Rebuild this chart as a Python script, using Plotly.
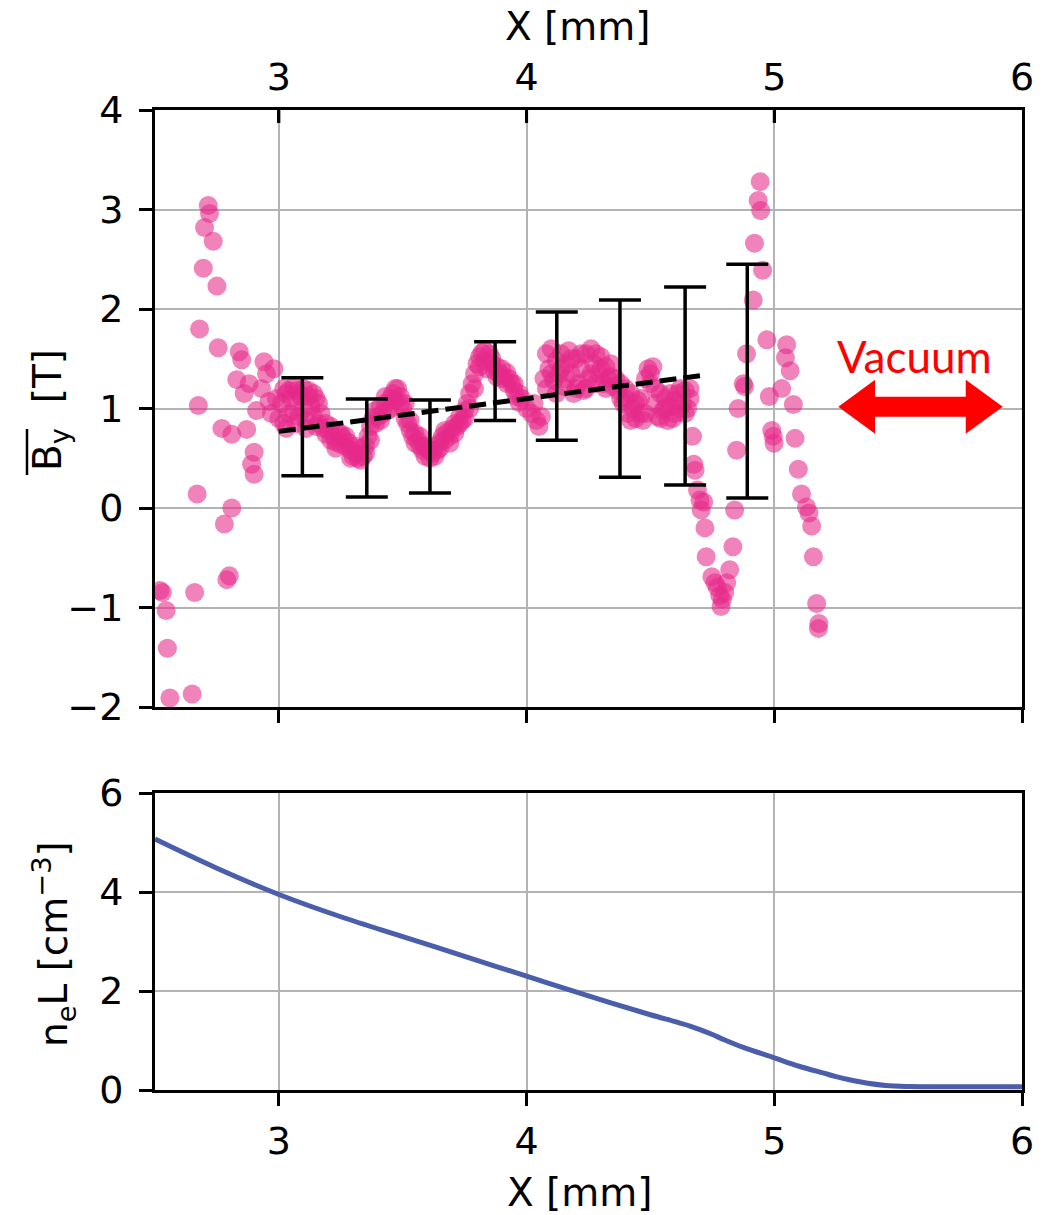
import plotly.graph_objects as go

# ---------------- data ----------------
by_x = [2.52, 2.53, 2.545, 2.55, 2.56, 2.65, 2.66, 2.67, 2.675, 2.68, 2.695, 2.70, 2.715, 2.72, 2.735,
        2.75, 2.755, 2.77, 2.78, 2.79, 2.80, 2.81, 2.81, 2.83, 2.84, 2.85, 2.86, 2.87, 2.88, 2.89,
        2.90, 2.90, 2.91, 2.93, 2.94, 2.95, 2.96, 2.97, 2.98, 2.99, 3.00,
        3.01, 3.02, 3.03, 3.04, 3.05, 3.06, 3.07, 3.08, 3.09, 3.10, 3.11, 3.12, 3.13, 3.14, 3.15,
        3.16, 3.17, 3.18, 3.19, 3.20, 3.21, 3.22, 3.23, 3.24, 3.25, 3.26, 3.27, 3.28, 3.29, 3.30,
        3.31, 3.32, 3.33, 3.34, 3.35, 3.36, 3.37, 3.38, 3.39, 3.40, 3.41, 3.42, 3.43, 3.44, 3.45,
        3.46, 3.47, 3.48, 3.49, 3.50, 3.51, 3.52, 3.53, 3.54, 3.55, 3.56, 3.57, 3.58, 3.59, 3.60,
        3.61, 3.62, 3.63, 3.64, 3.65, 3.66, 3.67, 3.68, 3.69, 3.70, 3.71, 3.72, 3.73, 3.74, 3.75,
        3.76, 3.77, 3.78, 3.79, 3.80, 3.81, 3.82, 3.83, 3.84, 3.85, 3.86, 3.87, 3.88, 3.89, 3.90,
        3.91, 3.92, 3.93, 3.94, 3.95, 3.96, 3.97, 3.98, 4.00, 4.02, 4.03, 4.04, 4.05, 4.06, 4.07,
        4.08, 4.09, 4.10, 4.11, 4.12, 4.13, 4.14, 4.15, 4.16, 4.17, 4.18, 4.19, 4.20, 4.21, 4.22,
        4.23, 4.24, 4.25, 4.26, 4.27, 4.28, 4.29, 4.30, 4.31, 4.32, 4.33, 4.34, 4.35, 4.36, 4.37,
        4.38, 4.39, 4.40, 4.41, 4.42, 4.43, 4.44, 4.45, 4.46, 4.47, 4.48, 4.49, 4.50, 4.51, 4.52,
        4.53, 4.54, 4.55, 4.56, 4.57, 4.58, 4.59, 4.60, 4.61, 4.62, 4.63, 4.64, 4.65, 4.66, 4.67,
        4.675, 4.68, 4.69, 4.70, 4.705, 4.715, 4.72, 4.725, 4.748, 4.76, 4.77, 4.78, 4.785, 4.79,
        4.80, 4.808, 4.82, 4.833, 4.84, 4.848, 4.854, 4.875, 4.88, 4.888, 4.915, 4.92, 4.935,
        4.943, 4.945, 4.953, 4.97, 4.98, 4.99, 4.996, 4.999, 5.03, 5.045, 5.05, 5.064, 5.077,
        5.084, 5.097, 5.11, 5.13, 5.14, 5.151, 5.158, 5.171, 5.178, 5.18,
        # second layer of the dense band
        3.02, 3.04, 3.06, 3.08, 3.10, 3.12, 3.14, 3.16, 3.03, 3.07, 3.11, 3.15,
        3.19, 3.21, 3.23, 3.25, 3.27, 3.29, 3.31, 3.33, 3.35,
        3.37, 3.39, 3.41, 3.43, 3.45, 3.47, 3.49,
        3.51, 3.53, 3.55, 3.57, 3.59, 3.61, 3.63, 3.65,
        3.67, 3.69, 3.71, 3.73, 3.75, 3.77, 3.79,
        3.81, 3.83, 3.86, 3.88, 3.90, 3.92, 3.95, 3.97,
        4.08, 4.10, 4.12, 4.14, 4.16, 4.18, 4.20, 4.22, 4.24, 4.26, 4.28, 4.30, 4.32, 4.34,
        4.38, 4.40, 4.42, 4.44, 4.46, 4.48, 4.50, 4.52, 4.54, 4.56, 4.58, 4.60, 4.62, 4.64, 4.66]
by_v = [-0.83, -0.85, -1.03, -1.41, -1.91, -1.87, -0.85, 0.14, 1.03, 1.80, 2.41, 2.82, 3.04, 2.96, 2.68,
        2.23, 1.61, 0.80, -0.16, -0.72, -0.68, 0.00, 0.74, 1.29, 1.57, 1.49, 1.15, 0.79, 1.25, 0.44,
        0.56, 0.34, 0.98, 1.20, 1.47, 1.35, 1.07, 0.95, 1.40, 1.10, 0.90,
        1.05, 0.85, 1.15, 0.95, 1.10, 0.98, 1.18, 0.92, 1.12, 1.00, 0.88, 1.12, 1.02, 0.92, 1.10,
        0.85, 0.95, 0.80, 0.74, 0.78, 0.68, 0.72, 0.66, 0.75, 0.64, 0.70, 0.62, 0.66, 0.58, 0.52,
        0.55, 0.50, 0.60, 0.52, 0.62, 0.72, 0.82, 0.90, 0.98, 0.92, 1.02, 0.95, 1.05, 0.98, 1.10,
        1.15, 1.08, 1.20, 1.12, 1.00, 0.90, 0.85, 0.78, 0.72, 0.75, 0.68, 0.62, 0.58, 0.52, 0.60,
        0.50, 0.55, 0.62, 0.58, 0.66, 0.72, 0.68, 0.76, 0.72, 0.80, 0.85, 0.82, 0.92, 0.88, 0.98,
        1.05, 1.15, 1.25, 1.35, 1.45, 1.52, 1.56, 1.48, 1.40, 1.55, 1.45, 1.38, 1.42, 1.35, 1.40,
        1.32, 1.36, 1.30, 1.25, 1.18, 1.12, 1.06, 1.10, 1.00, 0.95, 1.05, 0.88, 0.82, 0.92, 1.30,
        1.55, 1.40, 1.60, 1.28, 1.48, 1.35, 1.55, 1.22, 1.45, 1.58, 1.35, 1.15, 1.50, 1.25, 1.40,
        1.18, 1.55, 1.30, 1.60, 1.45, 1.55, 1.35, 1.40, 1.25, 1.42, 1.30, 1.32, 1.22, 1.30, 1.18,
        1.10, 1.05, 1.20, 0.95, 1.15, 1.00, 0.90, 1.08, 0.95, 0.88, 1.30, 1.40, 1.35, 1.42, 1.05,
        0.92, 1.15, 0.98, 1.10, 0.88, 1.02, 0.90, 1.08, 1.15, 1.20, 1.05, 1.18, 1.00, 1.10, 0.72,
        0.44, 0.38, 0.18, 0.08, -0.02, 0.06, -0.20, -0.49, -0.69, -0.75, -0.80, -0.88, -0.99, -0.92,
        -0.85, -0.75, -0.62, -0.39, -0.02, 0.58, 1.00, 1.25, 1.22, 1.55, 2.09, 2.66, 3.09,
        3.28, 2.99, 2.39, 1.69, 1.12, 0.78, 0.72, 0.65, 1.20, 1.51, 1.64, 1.38, 1.04,
        0.70, 0.39, 0.14, 0.01, -0.05, -0.18, -0.49, -0.96, -1.21, -1.16,
        1.20, 1.18, 1.22, 1.15, 1.20, 1.18, 1.15, 1.05, 0.80, 0.85, 0.80, 0.82,
        0.85, 0.82, 0.60, 0.75, 0.72, 0.50, 0.62, 0.48, 0.55,
        0.68, 0.85, 0.88, 1.12, 1.00, 1.20, 1.05,
        1.05, 0.88, 0.65, 0.72, 0.62, 0.58, 0.52, 0.60,
        0.78, 0.65, 0.75, 0.85, 0.90, 1.00, 1.20,
        1.42, 1.58, 1.50, 1.32, 1.30, 1.25, 1.25, 1.15,
        1.20, 1.35, 1.15, 1.40, 1.30, 1.50, 1.20, 1.55, 1.20, 1.35, 1.25, 1.52, 1.20, 1.45,
        1.25, 1.10, 0.88, 1.05, 1.10, 0.95, 1.25, 1.20, 0.90, 1.00, 1.15, 0.95, 1.00, 0.95, 1.20]

err_x = [3.095, 3.355, 3.61, 3.873, 4.122, 4.377, 4.64, 4.891]
err_low = [0.325, 0.11, 0.15, 0.88, 0.68, 0.31, 0.23, 0.10]
err_high = [1.31, 1.095, 1.085, 1.67, 1.97, 2.09, 2.22, 2.45]

fit_x = [3.0, 4.7]
fit_v = [0.77, 1.33]

ne_x = [2.5, 2.75, 3.0, 3.25, 3.5, 3.75, 4.0, 4.25, 4.5, 4.6, 4.66, 4.7, 4.75, 4.8, 4.875, 5.0,
        5.1, 5.2, 5.25, 5.35, 5.45, 5.55, 5.7, 5.85, 6.0]
ne_v = [5.07, 4.48, 3.95, 3.50, 3.10, 2.70, 2.30, 1.90, 1.52, 1.38, 1.29, 1.22, 1.12, 1.01, 0.86, 0.65,
        0.48, 0.34, 0.27, 0.16, 0.09, 0.07, 0.065, 0.065, 0.065]

x_ticks = [3, 4, 5, 6]
by_ticks = [-2, -1, 0, 1, 2, 3, 4]
ne_ticks = [0, 2, 4, 6]

# ---------------- styling ----------------
W, H = 1048, 1215
ML, MR, MT, MB = 155, 26, 110, 125
PW, PH = W - ML - MR, H - MT - MB
TOP_Y0, BOT_Y1 = 707, 793  # pixel rows
TICKLEN = 13

def px2paper_x(px):
    return (px - ML) / PW

def px2paper_y(py):
    return (H - MB - py) / PH

FONT = "DejaVu Sans"
TICK_SIZE = 38
TITLE_SIZE = 39
GRID = "#b3b3b3"

fig = go.Figure()

fig.add_trace(go.Scatter(
    x=by_x, y=by_v, mode="markers", xaxis="x", yaxis="y",
    marker=dict(size=19, color="rgba(231,41,138,0.58)", line=dict(width=0)),
    showlegend=False, hoverinfo="skip"))

centers = [(lo + hi) / 2 for lo, hi in zip(err_low, err_high)]
fig.add_trace(go.Scatter(
    x=err_x, y=centers, mode="markers", xaxis="x", yaxis="y",
    marker=dict(size=1, color="rgba(0,0,0,0)"),
    error_y=dict(type="data", symmetric=False,
                 array=[hi - c for hi, c in zip(err_high, centers)],
                 arrayminus=[c - lo for lo, c in zip(err_low, centers)],
                 color="black", thickness=3.5, width=21),
    showlegend=False, hoverinfo="skip"))

fig.add_trace(go.Scatter(
    x=fit_x, y=fit_v, mode="lines", xaxis="x", yaxis="y",
    line=dict(color="black", width=5, dash="17px,7px"),
    showlegend=False, hoverinfo="skip"))

# dummy trace to activate top axis
fig.add_trace(go.Scatter(
    x=[2.5, 6], y=[-5, -5], mode="markers", xaxis="x3", yaxis="y",
    marker=dict(opacity=0), showlegend=False, hoverinfo="skip"))

fig.add_trace(go.Scatter(
    x=ne_x, y=ne_v, mode="lines", xaxis="x2", yaxis="y2",
    line=dict(color="#4a5eab", width=5, shape="spline", smoothing=1.0),
    showlegend=False, hoverinfo="skip"))

axis_common = dict(
    showline=True, linecolor="black", linewidth=3, mirror=True,
    showgrid=True, gridcolor=GRID, gridwidth=2, zeroline=False,
    ticks="outside", ticklen=TICKLEN, tickwidth=3, tickcolor="black",
    tickfont=dict(family=FONT, size=TICK_SIZE, color="black"),
)

top_dom = [px2paper_y(TOP_Y0), 1.0]
bot_dom = [0.0, px2paper_y(BOT_Y1)]

fig.update_layout(
    width=W, height=H, autosize=False,
    margin=dict(l=ML, r=MR, t=MT, b=MB, pad=0),
    paper_bgcolor="white", plot_bgcolor="white",
    xaxis=dict(axis_common, anchor="y", domain=[0, 1], range=[2.5, 6],
               tickvals=x_ticks, showticklabels=False),
    xaxis3=dict(overlaying="x", side="top", anchor="y", range=[2.5, 6],
                tickvals=x_ticks, showgrid=False, showline=True, linecolor="black",
                linewidth=3, zeroline=False,
                ticks="inside", ticklen=TICKLEN, tickwidth=3, tickcolor="black",
                tickfont=dict(family=FONT, size=TICK_SIZE, color="black"),
                ticklabelstandoff=2),
    yaxis=dict(axis_common, anchor="x", domain=top_dom, range=[-2, 4],
               tickvals=by_ticks, ticklabelstandoff=8),
    xaxis2=dict(axis_common, anchor="y2", domain=[0, 1], range=[2.5, 6],
                tickvals=x_ticks, ticklabelstandoff=2),
    yaxis2=dict(axis_common, anchor="x2", domain=bot_dom, range=[0, 6],
                tickvals=ne_ticks, ticklabelstandoff=8),
)

# inward tick marks along the top edge of the upper panel
for t in x_ticks[:-1]:
    fig.add_shape(type="line", xref="x", yref="paper", x0=t, x1=t,
                  y0=1.0, y1=1.0 - TICKLEN / PH, line=dict(color="black", width=3),
                  layer="above")

title_font = dict(family=FONT, size=TITLE_SIZE, color="black")
fig.add_annotation(text="X [mm]", xref="paper", yref="paper",
                   x=px2paper_x(578), y=px2paper_y(26), xanchor="center", yanchor="middle",
                   showarrow=False, font=title_font)
fig.add_annotation(text="X [mm]", xref="paper", yref="paper",
                   x=px2paper_x(580), y=px2paper_y(1192), xanchor="center", yanchor="middle",
                   showarrow=False, font=title_font)
fig.add_annotation(text="B<sub>y</sub>  [T]", xref="paper", yref="paper",
                   x=px2paper_x(50), y=px2paper_y(410), xanchor="center", yanchor="middle",
                   textangle=-90, showarrow=False, font=title_font)
fig.add_annotation(text="n<sub>e</sub>L [cm<sup>−3</sup>]", xref="paper", yref="paper",
                   x=px2paper_x(54), y=px2paper_y(944), xanchor="center", yanchor="middle",
                   textangle=-90, showarrow=False, font=title_font)
# overline on B_y
fig.add_shape(type="line", xref="paper", yref="paper",
              x0=px2paper_x(27), x1=px2paper_x(27), y0=px2paper_y(429), y1=px2paper_y(475),
              line=dict(color="black", width=2.5))

# Vacuum annotation
fig.add_annotation(text="Vacuum", xref="x", yref="y", x=5.568, y=1.53,
                   xanchor="center", yanchor="middle", showarrow=False,
                   font=dict(family="Lato", size=44, color="#ff0000"))
xl, xlb, xrb, xr = 5.2586, 5.4068, 5.7729, 5.9223
yc, hh, bh = 1.018, 0.271, 0.10
arrow_path = (f"M {xl},{yc} L {xlb},{yc + hh} L {xlb},{yc + bh} L {xrb},{yc + bh} "
              f"L {xrb},{yc + hh} L {xr},{yc} L {xrb},{yc - hh} L {xrb},{yc - bh} "
              f"L {xlb},{yc - bh} L {xlb},{yc - hh} Z")
fig.add_shape(type="path", xref="x", yref="y", path=arrow_path,
              fillcolor="#ff0000", line=dict(width=0))

fig.write_html("out.html")
